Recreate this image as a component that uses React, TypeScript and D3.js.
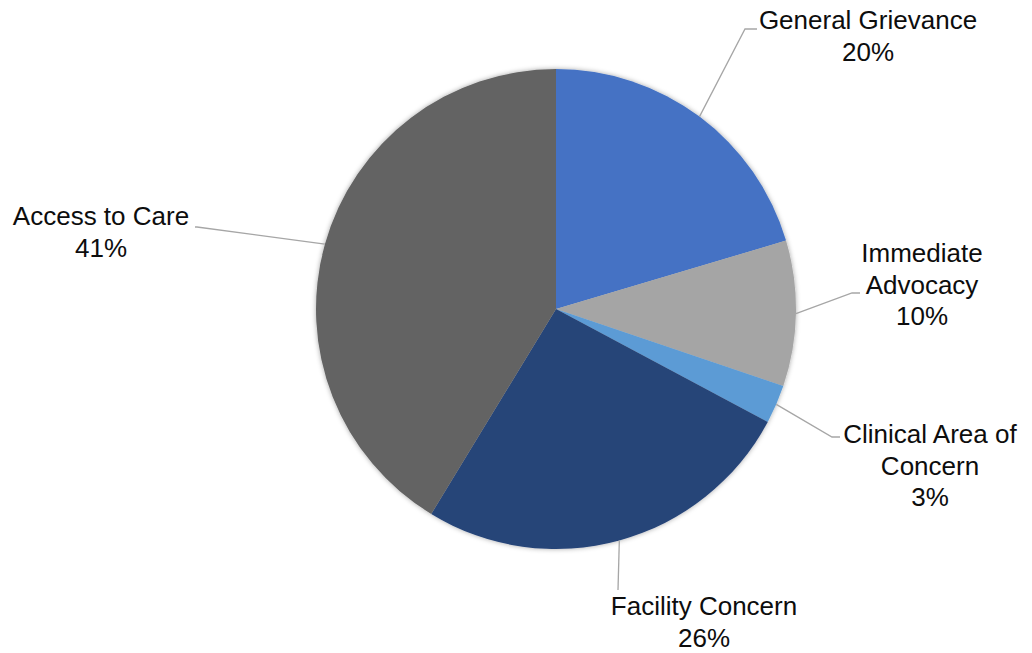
import React from "react";
import * as d3 from "d3";

const categories = ["General Grievance", "Immediate Advocacy", "Clinical Area of Concern", "Facility Concern", "Access to Care"];
const values = [20.4, 9.8, 2.6, 25.9, 41.3];
const colors = ["#4472C4", "#A5A5A5", "#5B9BD5", "#264478", "#636363"];
// label text lines (as shown)
const labelLines = [["General Grievance"], ["Immediate", "Advocacy"], ["Clinical Area of", "Concern"], ["Facility Concern"], ["Access to Care"]];

// layout: label center x, first baseline y, leader elbow & end
const labelLayout = [
  { x: 868, y: 29, elbow: [745, 29], end: [757, 29] },
  { x: 922, y: 262, elbow: [852, 293], end: [860, 293] },
  { x: 930, y: 443, elbow: [832, 437], end: [840, 437] },
  { x: 704, y: 615, elbow: null, end: [618, 590] },
  { x: 101, y: 225, elbow: [197, 227], end: [195, 227] },
];

const W = 1032, H = 653;
const CX = 556, CY = 309, R = 240;
const LINE_H = 31.5;

export default function App() {
  const total = d3.sum(values);
  const pie = d3.pie<number>().sort(null).value((d) => d).startAngle(0).endAngle(2 * Math.PI);
  const arcs = pie(values);
  const arcGen = d3.arc<d3.PieArcDatum<number>>().innerRadius(0).outerRadius(R);

  return (
    <svg width={W} height={H} style={{ position: "absolute", left: 0, top: 0, background: "#fff" }}>
      <defs>
        <filter id="sh" x="-10%" y="-10%" width="120%" height="120%">
          <feDropShadow dx="0" dy="0" stdDeviation="2.5" floodColor="#000" floodOpacity="0.35" />
        </filter>
      </defs>
      <rect width={W} height={H} fill="#fff" />
      <g transform={`translate(${CX},${CY})`} filter="url(#sh)">
        {arcs.map((a, i) => (
          <path key={i} d={arcGen(a) as string} fill={colors[i]} />
        ))}
      </g>
      {arcs.map((a, i) => {
        const mid = (a.startAngle + a.endAngle) / 2;
        const sx = CX + R * Math.sin(mid);
        const sy = CY - R * Math.cos(mid);
        const L = labelLayout[i];
        const pts: number[][] = [[sx, sy]];
        if (L.elbow) pts.push(L.elbow);
        pts.push(L.end);
        const line = d3.line()(pts as [number, number][]) as string;
        return <path key={"l" + i} d={line} fill="none" stroke="#A6A6A6" strokeWidth={1.3} />;
      })}
      {arcs.map((a, i) => {
        const L = labelLayout[i];
        const lines = [...labelLines[i], `${Math.round((values[i] / total) * 100)}%`];
        return (
          <text key={"t" + i} x={L.x} y={L.y} textAnchor="middle" fontFamily="'Liberation Sans', Arial, sans-serif" fontSize={26} fill="#0D0D0D">
            {lines.map((s, j) => (
              <tspan key={j} x={L.x} y={L.y + j * LINE_H}>{s}</tspan>
            ))}
          </text>
        );
      })}
    </svg>
  );
}
